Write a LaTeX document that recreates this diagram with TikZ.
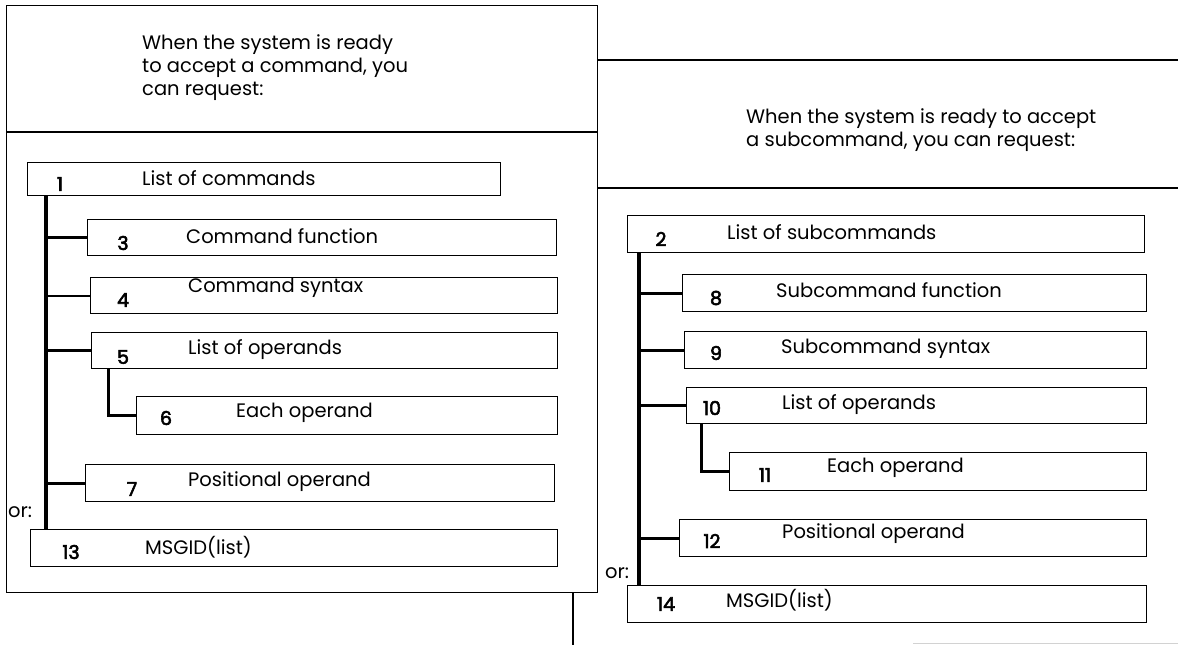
\documentclass[tikz,border=0pt]{standalone}
\usepackage{fontspec}
\setmainfont{Poppins}
\newfontfamily\numfont[FakeBold=3]{Poppins}
\begin{document}
\begin{tikzpicture}[x=1pt,y=-1pt,
  box/.style={draw, line width=1.3pt, inner sep=0pt, anchor=north west},
  trunk/.style={line width=3.6pt},
  branch/.style={line width=3pt},
  thinbranch/.style={line width=2pt},
  rulel/.style={line width=1.3pt},
  num/.style={font=\fontsize{19}{19}\numfont, inner sep=0pt},
  lbl/.style={font=\fontsize{19.5}{19.5}\selectfont, anchor=west, inner sep=0pt},
  title/.style={font=\fontsize{19.5}{23}\selectfont, align=left, anchor=north west, inner sep=0pt}]
\useasboundingbox (0,0) rectangle (1178,645);

% left panel
\node[box, minimum width=591pt, minimum height=587pt] (panel) at (6,5) {};
\coordinate (hl1) at (6,132);
\draw[rulel] (hl1) -- (hl1 -| panel.east);
\node[title] (ltitle) at (142,34) {When the system is ready\\to accept a command, you\\can request:};
\coordinate (tail) at (573,645);
\draw[rulel] (tail |- panel.south) -- (tail);

% right header lines
\coordinate (r1a) at (597,60);
\coordinate (r1b) at (1178,60);
\coordinate (r2a) at (597,188);
\coordinate (r2b) at (1178,188);
\draw[rulel] (r1a) -- (r1b);
\draw[rulel] (r2a) -- (r2b);
\node[title] (rtitle) at (746,108) {When the system is ready to accept\\a subcommand, you can request:};

% left boxes
\node[box, minimum width=473pt, minimum height=33pt] (b1) at (27,162) {};
\node[box, minimum width=469pt, minimum height=36pt] (b3) at (87,219) {};
\node[box, minimum width=467pt, minimum height=36pt] (b4) at (90,277) {};
\node[box, minimum width=466pt, minimum height=36pt] (b5) at (91,332) {};
\node[box, minimum width=421pt, minimum height=38pt] (b6) at (136,396) {};
\node[box, minimum width=469pt, minimum height=37pt] (b7) at (85,464) {};
\node[box, minimum width=527pt, minimum height=37pt] (b13) at (30,529) {};

\node[num] (n1) at (60,184) {1};
\node[lbl] (t1) at (142,178) {List of commands};
\node[num] (n3) at (123,243) {3};
\node[lbl] (t3) at (186,236) {Command function};
\node[num] (n4) at (123,300) {4};
\node[lbl] (t4) at (188,288) {Command syntax};
\node[num] (n5) at (123,357) {5};
\node[lbl] (t5) at (188,350) {List of operands};
\node[num] (n6) at (166,418) {6};
\node[lbl] (t6) at (236,413) {Each operand};
\node[num] (n7) at (132,489) {7};
\node[lbl] (t7) at (188,482) {Positional operand};
\node[num] (n13) at (71,552) {13};
\node[lbl] (t13) at (145,547) {MSGID(list)};
\node[lbl] (orl) at (8,512) {or:};

% left connectors
\coordinate (L) at (46,0);
\coordinate (S5) at (108,0);
\draw[trunk] (b1.south -| L) -- (b13.north -| L);
\draw[branch] (b3.west -| L) -- (b3.west);
\draw[thinbranch] (b4.west -| L) -- (b4.west);
\draw[branch] (b5.west -| L) -- (b5.west);
\draw[branch] (b7.west -| L) -- (b7.west);
\draw[branch] (b5.south -| S5) -- (S5 |- b6.west) -- (b6.west);

% right boxes
\node[box, minimum width=517pt, minimum height=37pt] (b2) at (627,215) {};
\node[box, minimum width=464pt, minimum height=37pt] (b8) at (682,274) {};
\node[box, minimum width=462pt, minimum height=37pt] (b9) at (684,331) {};
\node[box, minimum width=460pt, minimum height=36pt] (b10) at (686,387) {};
\node[box, minimum width=417pt, minimum height=38pt] (b11) at (729,452) {};
\node[box, minimum width=467pt, minimum height=37pt] (b12) at (679,519) {};
\node[box, minimum width=519pt, minimum height=37pt] (b14) at (627,585) {};

\node[num] (n2) at (661,239) {2};
\node[lbl] (t2) at (727,232) {List of subcommands};
\node[num] (n8) at (716,298) {8};
\node[lbl] (t8) at (776,290) {Subcommand function};
\node[num] (n9) at (716,353) {9};
\node[lbl] (t9) at (781,349) {Subcommand syntax};
\node[num] (n10) at (712,408) {10};
\node[lbl] (t10) at (782,405) {List of operands};
\node[num] (n11) at (765,475) {11};
\node[lbl] (t11) at (827,468) {Each operand};
\node[num] (n12) at (712,541) {12};
\node[lbl] (t12) at (782,534) {Positional operand};
\node[num] (n14) at (666,604) {14};
\node[lbl] (t14) at (726,600) {MSGID(list)};
\node[lbl] (orr) at (605,573) {or:};

% right connectors
\coordinate (R) at (639,0);
\coordinate (S10) at (701,0);
\draw[trunk] (b2.south -| R) -- (b14.north -| R);
\draw[branch] (b8.west -| R) -- (b8.west);
\draw[branch] (b9.west -| R) -- (b9.west);
\draw[branch] (b10.west -| R) -- (b10.west);
\draw[branch] (b12.west -| R) -- (b12.west);
\draw[branch] (b10.south -| S10) -- (S10 |- b11.west) -- (b11.west);

% faint scan line at bottom right
\coordinate (f1) at (913,643);
\coordinate (f2) at (1178,643);
\draw[gray!35, line width=1pt] (f1) -- (f2);
\end{tikzpicture}
\end{document}
